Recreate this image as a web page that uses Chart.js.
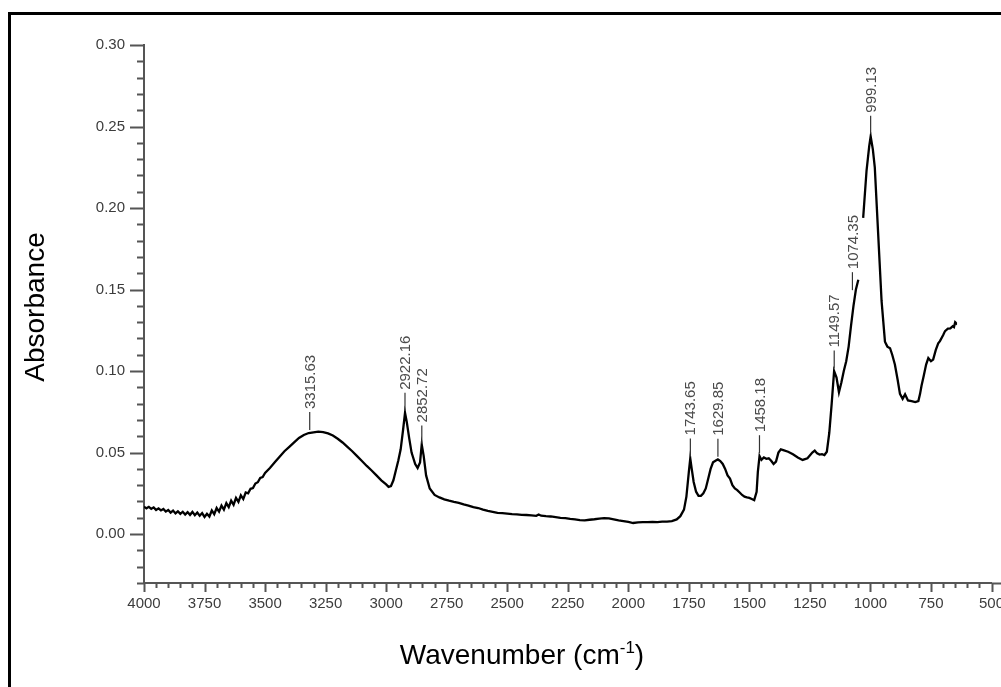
<!DOCTYPE html>
<html>
<head>
<meta charset="utf-8">
<script src="https://cdn.jsdelivr.net/npm/chart.js@4.4.1/dist/chart.umd.min.js"></script>
<style>
  html, body { margin: 0; padding: 0; background: #fff; overflow: hidden; }
  body { width: 1001px; height: 687px; position: relative; }
  #frame { position: absolute; left: 8px; top: 12px; width: 1100px; height: 800px; border: 3px solid #000; }
  #chart { position: absolute; left: 0; top: 0; }
</style>
</head>
<body>
<div id="frame"></div>
<canvas id="chart" width="1040" height="687"></canvas>
<script>
// --- Spectrum data ---
const WAVENUMBER = [
  4000, 3990, 3980, 3970, 3960, 3950, 3940, 3930, 3920, 3910, 3900, 3890, 3880, 3870, 3860, 3850,
  3840, 3830, 3820, 3810, 3800, 3790, 3780, 3770, 3760, 3750, 3740, 3730, 3720, 3710, 3700, 3690,
  3680, 3670, 3660, 3650, 3640, 3630, 3620, 3610, 3600, 3590, 3580, 3570, 3560, 3550, 3540, 3530,
  3520, 3510, 3500, 3480, 3460, 3440, 3420, 3400, 3380, 3360, 3340, 3320, 3300, 3280, 3260, 3240,
  3220, 3200, 3180, 3160, 3140, 3120, 3100, 3080, 3060, 3040, 3020, 3000, 2990, 2980, 2970, 2960,
  2950, 2940, 2930, 2922, 2915, 2905, 2895, 2880, 2870, 2860, 2853, 2845, 2835, 2820, 2800, 2780,
  2760, 2740, 2720, 2700, 2680, 2660, 2640, 2620, 2600, 2580, 2560, 2540, 2520, 2500, 2480, 2460,
  2440, 2420, 2400, 2380, 2370, 2360, 2340, 2320, 2300, 2280, 2260, 2240, 2220, 2200, 2180, 2160,
  2140, 2120, 2100, 2080, 2060, 2040, 2020, 2000, 1980, 1960, 1940, 1920, 1900, 1880, 1860, 1840,
  1820, 1800, 1785, 1770, 1760, 1750, 1744, 1738, 1730, 1720, 1710, 1700, 1690, 1680, 1670, 1660,
  1650, 1640, 1630, 1620, 1610, 1600, 1590, 1580, 1570, 1560, 1550, 1540, 1530, 1520, 1510, 1500,
  1490, 1480, 1470, 1465, 1458, 1450, 1440, 1430, 1420, 1410, 1400, 1390, 1380, 1370, 1360, 1340,
  1320, 1300, 1280, 1260, 1240, 1230, 1220, 1210, 1200, 1190, 1180, 1170, 1160, 1150, 1140, 1130,
  1120, 1110, 1100, 1090, 1080, 1070, 1060, 1050, 1040, 1030, 1016, 1005, 999, 990, 982, 968,
  954, 940, 930, 919, 910, 899, 888, 878, 867, 857, 845, 830, 815, 802, 795, 789,
  780, 770, 761, 750, 741, 730, 720, 713, 700, 692, 680, 670, 660, 655, 650, 647
];
const ABSORBANCE = [
  0.0168, 0.0158, 0.0167, 0.0155, 0.0164, 0.0148, 0.0158, 0.0145, 0.0154, 0.0138, 0.0148, 0.0132, 0.0144, 0.0127, 0.0140, 0.0124,
  0.0137, 0.0120, 0.0135, 0.0118, 0.0136, 0.0116, 0.0132, 0.0113, 0.0129, 0.0105, 0.0125, 0.0108, 0.0145, 0.0122, 0.0160, 0.0138,
  0.0175, 0.0150, 0.0190, 0.0165, 0.0205, 0.0180, 0.0222, 0.0198, 0.0238, 0.0215, 0.0255, 0.0250, 0.0278, 0.0282, 0.0310, 0.0318,
  0.0345, 0.0350, 0.0375, 0.0405, 0.0440, 0.0475, 0.0508, 0.0535, 0.0563, 0.0590, 0.0608, 0.0620, 0.0624, 0.0628, 0.0626, 0.0618,
  0.0605, 0.0585, 0.0562, 0.0535, 0.0508, 0.0478, 0.0448, 0.0418, 0.0390, 0.0360, 0.0330, 0.0305, 0.0290, 0.0295, 0.0330, 0.0390,
  0.0450, 0.0520, 0.0640, 0.0744, 0.0690, 0.0590, 0.0500, 0.0430, 0.0405, 0.0440, 0.0550, 0.0480, 0.0360, 0.0280, 0.0240, 0.0225,
  0.0213, 0.0205, 0.0198, 0.0192, 0.0182, 0.0175, 0.0165, 0.0160, 0.0150, 0.0142, 0.0136, 0.0130, 0.0128, 0.0125, 0.0122, 0.0121,
  0.0118, 0.0117, 0.0115, 0.0112, 0.0120, 0.0113, 0.0110, 0.0108, 0.0104, 0.0100, 0.0098, 0.0093, 0.0090, 0.0086, 0.0084, 0.0088,
  0.0091, 0.0095, 0.0098, 0.0096, 0.0090, 0.0084, 0.0080, 0.0075, 0.0068, 0.0072, 0.0074, 0.0073, 0.0075, 0.0074, 0.0076, 0.0077,
  0.0080, 0.0090, 0.0110, 0.0150, 0.0230, 0.0380, 0.0464, 0.0400, 0.0320, 0.0260, 0.0235, 0.0235, 0.0250, 0.0280, 0.0340, 0.0400,
  0.0440, 0.0450, 0.0458, 0.0448, 0.0430, 0.0400, 0.0360, 0.0340, 0.0300, 0.0280, 0.0270, 0.0255, 0.0240, 0.0230, 0.0225, 0.0222,
  0.0215, 0.0208, 0.0260, 0.0380, 0.0479, 0.0455, 0.0470, 0.0462, 0.0465, 0.0450, 0.0430, 0.0445, 0.0500, 0.0520, 0.0515, 0.0505,
  0.0490, 0.0470, 0.0455, 0.0465, 0.0500, 0.0512, 0.0495, 0.0488, 0.0490, 0.0485, 0.0505, 0.0620, 0.0800, 0.1000, 0.0960, 0.0870,
  0.0930, 0.1000, 0.1060, 0.1150, 0.1280, 0.1400, 0.1500, 0.1560, null, 0.1940, 0.2230, 0.2380, 0.2440, 0.2360, 0.2250, 0.1840,
  0.1430, 0.1180, 0.1150, 0.1140, 0.1100, 0.1040, 0.0950, 0.0860, 0.0830, 0.0857, 0.0820, 0.0816, 0.0810, 0.0816, 0.0860, 0.0910,
  0.0970, 0.1040, 0.1080, 0.1060, 0.1070, 0.1130, 0.1170, 0.1184, 0.1220, 0.1245, 0.1260, 0.1262, 0.1275, 0.1270, 0.1300, 0.1296
];

// --- Peak labels ---
const PEAK_WN  = [3315.63, 2922.16, 2852.72, 1743.65, 1629.85, 1458.18, 1149.57, 1074.35, 999.13];
const PEAK_ABS = [0.0632, 0.0750, 0.0550, 0.0470, 0.0468, 0.0490, 0.1010, 0.1490, 0.2450];

// --- Axes ---
const X_TICKS = [4000, 3750, 3500, 3250, 3000, 2750, 2500, 2250, 2000, 1750, 1500, 1250, 1000, 750, 500];
const Y_TICKS = [0.00, 0.05, 0.10, 0.15, 0.20, 0.25, 0.30];
const X_MINOR_STEP = 50;
const Y_MINOR_STEP = 0.01;
const X_TITLE = 'Wavenumber (cm';
const X_TITLE_SUP = '-1';
const Y_TITLE = 'Absorbance';

const AXIS_COLOR = '#555';
const LABEL_COLOR = '#3c3c3c';
const TICK_FONT = { family: "'Liberation Sans', Arial, sans-serif", size: 15 };

// --- Custom drawing: minor/major ticks, axis titles, peak markers ---
const decorations = {
  id: 'decorations',
  afterDraw(chart) {
    const { ctx, chartArea: a, scales: { x, y } } = chart;
    ctx.save();
    ctx.strokeStyle = AXIS_COLOR;
    ctx.lineWidth = 2;
    ctx.beginPath();
    // x axis runs a bit past the last tick, like the original
    ctx.moveTo(a.right, a.bottom + 0.5);
    ctx.lineTo(a.right + 20, a.bottom + 0.5);
    for (let w = 4000; w >= 500; w -= X_MINOR_STEP) {
      const px = Math.round(x.getPixelForValue(w)) + 0.5;
      const len = w % 250 === 0 ? 9 : 5;
      ctx.moveTo(px, a.bottom);
      ctx.lineTo(px, a.bottom + len);
    }
    for (let i = -3; i <= 30; i++) {
      const v = i * Y_MINOR_STEP;
      const py = Math.round(y.getPixelForValue(v)) + 0.5;
      const len = i % 5 === 0 ? 14 : 7;
      ctx.moveTo(a.left, py);
      ctx.lineTo(a.left - len, py);
    }
    ctx.stroke();

    // peak markers
    ctx.strokeStyle = '#333';
    ctx.lineWidth = 1.2;
    ctx.fillStyle = '#4a4a4a';
    ctx.font = "15px 'Liberation Sans', Arial, sans-serif";
    PEAK_WN.forEach((w, i) => {
      const px = x.getPixelForValue(w);
      const py = y.getPixelForValue(PEAK_ABS[i]);
      ctx.beginPath();
      ctx.moveTo(px, py - 1);
      ctx.lineTo(px, py - 19);
      ctx.stroke();
      ctx.save();
      ctx.translate(px, py - 22);
      ctx.rotate(-Math.PI / 2);
      ctx.textAlign = 'left';
      ctx.textBaseline = 'middle';
      ctx.fillText(w.toFixed(2), 0, 1);
      ctx.restore();
    });

    // axis titles
    ctx.fillStyle = '#000';
    ctx.font = "28px 'Liberation Sans', Arial, sans-serif";
    ctx.save();
    ctx.translate(44, 307);
    ctx.rotate(-Math.PI / 2);
    ctx.textAlign = 'center';
    ctx.textBaseline = 'alphabetic';
    ctx.fillText(Y_TITLE, 0, 0);
    ctx.restore();

    const supFont = "17px 'Liberation Sans', Arial, sans-serif";
    const w1 = ctx.measureText(X_TITLE).width;
    const w3 = ctx.measureText(')').width;
    ctx.font = supFont;
    const w2 = ctx.measureText(X_TITLE_SUP).width;
    let tx = 522 - (w1 + w2 + w3) / 2;
    const base = 664;
    ctx.textAlign = 'left';
    ctx.textBaseline = 'alphabetic';
    ctx.font = "28px 'Liberation Sans', Arial, sans-serif";
    ctx.fillText(X_TITLE, tx, base);
    ctx.font = supFont;
    ctx.fillText(X_TITLE_SUP, tx + w1, base - 11);
    ctx.font = "28px 'Liberation Sans', Arial, sans-serif";
    ctx.fillText(')', tx + w1 + w2, base);
    ctx.restore();
  }
};

// --- Chart ---
const ctx = document.getElementById('chart').getContext('2d');
new Chart(ctx, {
  type: 'line',
  data: {
    datasets: [{
      data: WAVENUMBER.map((w, i) => ({ x: w, y: ABSORBANCE[i] })),
      borderColor: '#000',
      borderWidth: 2.3,
      pointRadius: 0,
      tension: 0,
      spanGaps: false
    }]
  },
  options: {
    responsive: false,
    animation: false,
    layout: { padding: { left: 0, top: 45, right: 48.5, bottom: 0 } },
    plugins: { legend: { display: false }, tooltip: { enabled: false } },
    scales: {
      x: {
        type: 'linear', reverse: true, min: 500, max: 4000,
        afterBuildTicks: s => { s.ticks = X_TICKS.map(v => ({ value: v })); },
        afterFit: s => { s.height = 104; },
        grid: { display: false, drawTicks: false },
        border: { display: true, color: AXIS_COLOR, width: 2 },
        ticks: { padding: 12, color: LABEL_COLOR, font: TICK_FONT, maxRotation: 0, autoSkip: false, callback: v => String(v) }
      },
      y: {
        min: -0.03, max: 0.30,
        afterBuildTicks: s => { s.ticks = Y_TICKS.map(v => ({ value: v })); },
        afterFit: s => { s.width = 144; },
        grid: { display: false, drawTicks: false },
        border: { display: true, color: AXIS_COLOR, width: 2 },
        ticks: { padding: 19, color: LABEL_COLOR, font: TICK_FONT, autoSkip: false, callback: v => v.toFixed(2) }
      }
    }
  },
  plugins: [decorations]
});
</script>
</body>
</html>
